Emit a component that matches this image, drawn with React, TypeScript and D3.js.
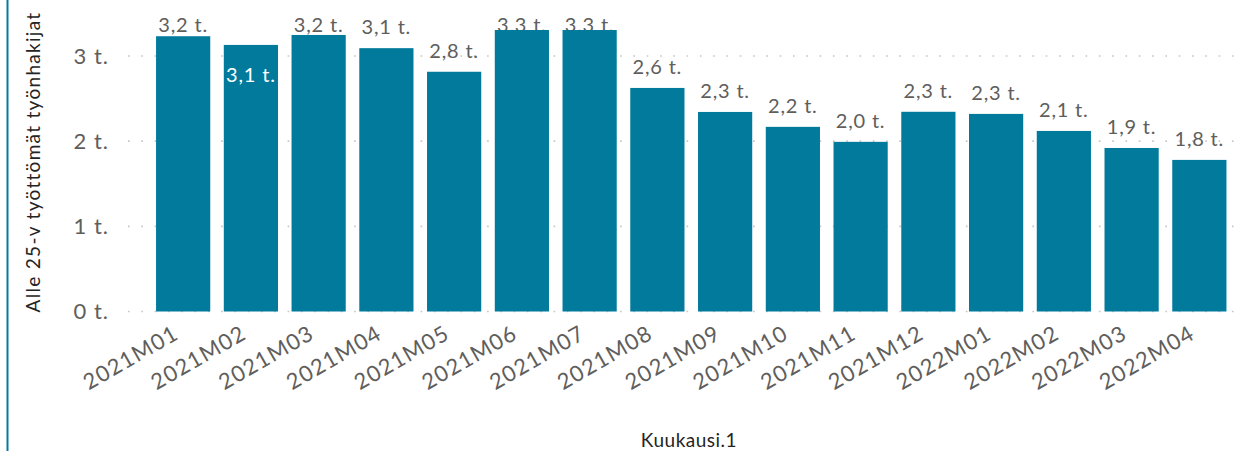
import * as d3 from "d3";

// months on the x axis
const months = [
  "2021M01", "2021M02", "2021M03", "2021M04", "2021M05", "2021M06",
  "2021M07", "2021M08", "2021M09", "2021M10", "2021M11", "2021M12",
  "2022M01", "2022M02", "2022M03", "2022M04",
];
// unemployed job seekers under 25
const seekers = [
  3232, 3130, 3247, 3092, 2815, 3305, 3305, 2625,
  2343, 2168, 1992, 2345, 2320, 2120, 1920, 1780,
];
const yTicks = [0, 1000, 2000, 3000];
// labels Power BI pushed inside the bar
const insideLabels = ["2021M02"];

const width = 1245,
  height = 451;

const fontFamily = "Lato, 'Open Sans', sans-serif";
const barColor = "#017a9b";

const fmt = (v: number) => (v / 1000).toFixed(1).replace(".", ",") + " t.";

export default function App() {
  const x = d3
    .scaleBand<string>()
    .domain(months)
    .range([142.5, 1240])
    .paddingInner(0.2)
    .paddingOuter(0.2);

  const y = d3.scaleLinear().domain([0, 3000]).range([311.5, 56]);

  const data = months.map((m, i) => ({ month: m, value: seekers[i] }));

  const labelY = (d: { month: string; value: number }) => {
    const top = y(d.value);
    if (insideLabels.includes(d.month)) return top + 37;
    return Math.max(top - 14, 32);
  };

  return (
    <svg
      width={width}
      height={height}
      style={{ position: "absolute", left: 0, top: 0, background: "#fff" }}
      fontFamily={fontFamily}
    >
      {/* left border */}
      <line x1={7.5} x2={7.5} y1={0} y2={height} stroke={barColor} strokeWidth={2} />

      {/* grid */}
      <g>
        {yTicks.map((t) => (
          <line
            key={t}
            x1={128}
            x2={width}
            y1={y(t)}
            y2={y(t)}
            stroke="#c8c6c4"
            strokeWidth={1.6}
            strokeDasharray="1.6,11.7"
          />
        ))}
      </g>

      {/* y ticks */}
      <g fill="#605e5c" fontSize={22} textAnchor="end" letterSpacing={1}>
        {yTicks.map((t) => (
          <text key={t} x={109} y={y(t)} dy="0.36em">
            {t / 1000 + " t."}
          </text>
        ))}
      </g>

      {/* labels above bars (drawn under bars) */}
      <g fill="#605e5c" fontSize={20} textAnchor="middle" letterSpacing={0.8}>
        {data
          .filter((d) => !insideLabels.includes(d.month))
          .map((d) => (
            <text key={d.month} x={x(d.month)! + x.bandwidth() / 2} y={labelY(d)}>
              {fmt(d.value)}
            </text>
          ))}
      </g>

      {/* bars */}
      <g fill={barColor}>
        {data.map((d) => (
          <rect
            key={d.month}
            x={x(d.month)}
            y={y(d.value)}
            width={x.bandwidth()}
            height={y(0) - y(d.value)}
          />
        ))}
      </g>

      {/* labels inside bars */}
      <g fill="#fff" fontSize={20} textAnchor="middle" letterSpacing={0.8}>
        {data
          .filter((d) => insideLabels.includes(d.month))
          .map((d) => (
            <text key={d.month} x={x(d.month)! + x.bandwidth() / 2} y={labelY(d)}>
              {fmt(d.value)}
            </text>
          ))}
      </g>

      {/* x ticks */}
      <g fill="#605e5c" fontSize={22} textAnchor="end" letterSpacing={1.2}>
        {months.map((m) => (
          <text
            key={m}
            transform={`translate(${x(m)! + x.bandwidth() / 2 - 11},324) rotate(-30)`}
            dy="0.72em"
          >
            {m}
          </text>
        ))}
      </g>

      {/* axis titles */}
      <text
        transform="translate(40,162) rotate(-90)"
        textAnchor="middle"
        fontSize={19}
        letterSpacing={1.3}
        fill="#252423"
      >
        Alle 25-v työttömät työnhakijat
      </text>
      <text x={689} y={447} textAnchor="middle" fontSize={19} letterSpacing={0.5} fill="#252423">
        Kuukausi.1
      </text>
    </svg>
  );
}
